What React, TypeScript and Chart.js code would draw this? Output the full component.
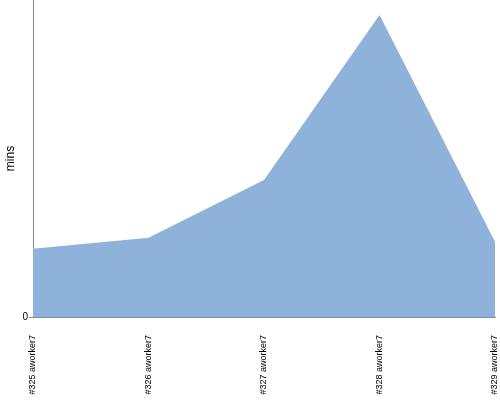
import React, { useEffect, useRef } from "react";
import { Chart, registerables } from "chart.js";

Chart.register(...registerables);

const categories = ["#325 aworker7", "#326 aworker7", "#327 aworker7", "#328 aworker7", "#329 aworker7"];
const minsValues = [2.15, 2.5, 4.32, 9.53, 2.37];
const yMax = 10;
const yTitle = "mins";

export default function App() {
  const ref = useRef<HTMLCanvasElement | null>(null);
  useEffect(() => {
    if (!ref.current) return;
    const chart = new Chart(ref.current, {
      type: "line",
      data: {
        labels: categories,
        datasets: [
          {
            data: minsValues,
            fill: "origin",
            backgroundColor: "rgb(143,178,218)",
            borderWidth: 0,
            borderColor: "rgba(0,0,0,0)",
            pointRadius: 0,
            tension: 0,
          },
        ],
      },
      options: {
        animation: false,
        responsive: false,
        maintainAspectRatio: false,
        layout: { padding: { top: 0, right: 5, left: 0, bottom: 0 } },
        plugins: { legend: { display: false }, tooltip: { enabled: false } },
        scales: {
          x: {
            offset: false,
            grid: { display: false, drawTicks: false },
            border: { display: true, color: "#7f8fa6", width: 1 },
            ticks: {
              minRotation: 90,
              maxRotation: 90,
              autoSkip: false,
              padding: 18,
              color: "#000",
              font: { family: "'Liberation Sans', sans-serif", size: 9 },
            },
            afterFit: (s: any) => {
              s.height = 83;
              s.paddingLeft = 0;
              s.paddingRight = 0;
              s.paddingTop = 0;
              s.paddingBottom = 0;
            },
          },
          y: {
            min: 0,
            max: yMax,
            afterBuildTicks: (s: any) => {
              s.ticks = [{ value: 0 }];
            },
            grid: { display: true, drawOnChartArea: false, drawTicks: true, tickLength: 4, color: "#888" },
            border: { display: true, color: "#888", width: 1 },
            ticks: {
              padding: 1,
              color: "#000",
              font: { family: "'Liberation Sans', sans-serif", size: 10 },
            },
            title: {
              display: true,
              text: yTitle,
              color: "#000",
              font: { family: "'Liberation Sans', sans-serif", size: 12 },
              padding: { top: 3, bottom: 0 },
            },
            afterFit: (s: any) => {
              s.width = 33;
              s.paddingLeft = 0;
              s.paddingRight = 0;
              s.paddingTop = 0;
              s.paddingBottom = 0;
            },
          },
        },
      },
    });
    return () => chart.destroy();
  }, []);
  return (
    <div style={{ position: "fixed", left: 0, top: 0, width: 500, height: 400, background: "#fff" }}>
      <canvas ref={ref} width={500} height={400} style={{ width: 500, height: 400 }} />
    </div>
  );
}
